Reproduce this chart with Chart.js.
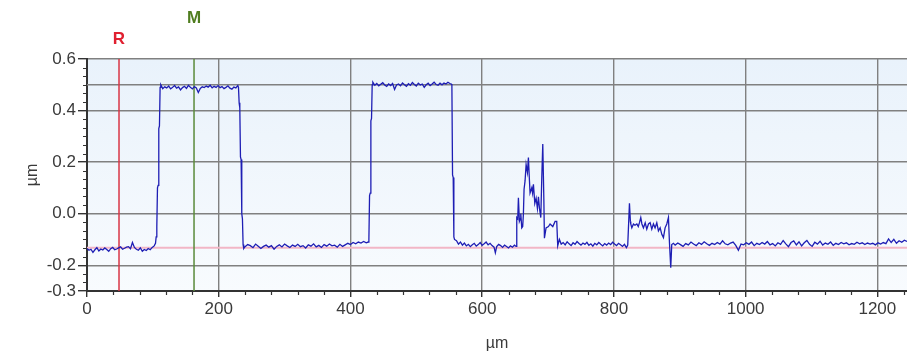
<!DOCTYPE html>
<html>
<head>
<meta charset="utf-8">
<script src="https://cdn.jsdelivr.net/npm/chart.js@4.4.1/dist/chart.umd.min.js"></script>
<style>
html,body{margin:0;padding:0;background:#fff;overflow:hidden;}
#wrap{width:907px;height:359px;}
</style>
</head>
<body>
<div id="wrap"><canvas id="c" width="907" height="359"></canvas></div>
<script>
// ---- Data ----
const xTickValues = [0, 200, 400, 600, 800, 1000, 1200];
const yTickValues = [-0.3, -0.2, 0.0, 0.2, 0.4, 0.6];
const xMin = 0, xMax = 1245;
const yMin = -0.3, yMax = 0.6;
const xMinorStep = 40;
const yMinorStep = 1 / 30;
const axisUnit = 'µm';
const cursorR = 48.6;      // R cursor position (µm)
const cursorM = 162.5;     // M cursor position (µm)
const refLevel = -0.132;   // pink reference level
const measureLevel = 0.5;  // gray measurement level

const profileX = [
  0,3,6,9,12,15,18,21,24,27,30,33,
  36,39,42,45,48,51,54,57,60,63,66,69,
  72,75,78,81,84,87,90,93,96,99,102,
  104,105,106,107,108,109,110,111,112,
  115,118,121,124,127,130,133,136,139,142,145,148,
  151,154,157,160,163,166,169,172,175,178,181,184,
  187,190,193,196,199,202,205,208,211,214,217,220,
  223,226,229,
  230,231,232,233,234,235,236,237,238,
  240,244,248,252,256,260,264,268,272,276,280,284,
  288,292,296,300,304,308,312,316,320,324,328,332,
  336,340,344,348,352,356,360,364,368,372,376,380,
  384,388,392,396,400,404,408,412,416,420,424,427,
  428,429,430,431,432,433,434,
  437,440,443,446,449,452,455,458,461,464,467,470,
  473,476,479,482,485,488,491,494,497,500,503,506,
  509,512,515,518,521,524,527,530,533,536,539,542,
  545,548,551,553,
  554,555,556,557,558,
  561,564,567,570,573,576,579,582,585,588,591,594,
  597,600,603,606,609,612,615,618,620,622,625,628,
  631,634,637,640,643,646,649,651.5,
  652.5,654,655,656.5,658,658.6,660.1,661.5,662.6,663.6,665.1,666.7,
  668.7,670.2,671.8,672.7,675.3,676.5,677.8,679.9,681.9,683.9,685.4,687,
  689,690.5,692,693.6,694.5,697,700.6,703.1,707.2,710.7,713.2,714.7,717.2,
  720,723,726,729,732,735,738,741,744,747,750,753,
  756,759,762,765,768,771,774,777,780,783,786,789,
  792,795,798,801,804,807,810,813,816,819,821,
  822,823.6,825,825.6,827.2,829.7,832,834.8,837,838.8,840.8,842.5,
  844.8,847.5,849.9,852.5,855,857.5,860,862.5,865.1,867.6,870.2,872.7,
  875.2,877.7,880.3,882.8,884.3,886.3,887.8,890.4,
  893,897,901,905,909,913,917,921,925,929,933,937,
  941,945,949,953,957,961,965,969,973,977,981,985,
  989,993,997,1001,1005,1009,1013,1017,1021,1025,1029,1033,
  1037,1041,1045,1049,1053,1057,1061,1065,1069,1073,1077,1081,
  1085,1089,1093,1097,1101,1105,1109,1113,1117,1121,1125,1129,
  1133,1137,1141,1145,1149,1153,1157,1161,1165,1169,1173,1177,
  1181,1185,1189,1193,1197,1201,1205,1209,1213,1217,1221,1225,
  1229,1233,1237,1241,1245
];
const profileY = [
  -0.135,-0.142,-0.138,-0.150,-0.140,-0.132,-0.145,-0.137,-0.141,-0.133,-0.139,-0.146,
  -0.136,-0.131,-0.140,-0.137,-0.133,-0.129,-0.138,-0.134,-0.130,-0.128,-0.136,-0.112,
  -0.131,-0.138,-0.142,-0.133,-0.146,-0.139,-0.143,-0.135,-0.140,-0.131,-0.125,
  -0.115,-0.090,-0.050,0.100,0.110,0.330,0.340,0.490,0.500,
  0.485,0.492,0.488,0.495,0.484,0.490,0.497,0.487,0.492,0.480,0.489,0.494,
  0.486,0.498,0.490,0.484,0.493,0.488,0.470,0.486,0.492,0.489,0.495,0.491,
  0.498,0.488,0.494,0.490,0.497,0.489,0.493,0.485,0.490,0.496,0.487,0.483,
  0.491,0.488,0.497,
  0.490,0.430,0.410,0.220,0.210,0.000,-0.020,-0.120,-0.135,
  -0.128,-0.120,-0.124,-0.132,-0.118,-0.126,-0.135,-0.127,-0.122,-0.130,-0.124,-0.138,
  -0.127,-0.121,-0.129,-0.118,-0.125,-0.131,-0.122,-0.127,-0.119,-0.128,-0.124,-0.133,
  -0.121,-0.126,-0.117,-0.129,-0.123,-0.131,-0.120,-0.126,-0.118,-0.125,-0.122,-0.130,
  -0.119,-0.127,-0.121,-0.115,-0.120,-0.112,-0.117,-0.110,-0.114,-0.108,-0.113,-0.110,
  -0.100,0.070,0.080,0.360,0.370,0.500,0.510,
  0.498,0.505,0.496,0.502,0.508,0.499,0.494,0.503,0.497,0.505,0.482,0.499,
  0.503,0.496,0.507,0.500,0.494,0.504,0.498,0.509,0.501,0.495,0.506,0.499,
  0.503,0.490,0.500,0.506,0.497,0.503,0.510,0.501,0.498,0.506,0.500,0.507,
  0.503,0.510,0.505,0.503,
  0.500,0.150,0.140,-0.090,-0.100,
  -0.105,-0.118,-0.110,-0.122,-0.114,-0.125,-0.119,-0.128,-0.121,-0.115,-0.126,-0.120,
  -0.112,-0.123,-0.117,-0.110,-0.121,-0.115,-0.124,-0.130,-0.152,-0.128,-0.119,-0.124,
  -0.131,-0.122,-0.127,-0.133,-0.125,-0.130,-0.122,-0.127,
  -0.015,-0.020,0.062,-0.030,-0.020,0.000,-0.055,-0.050,0.000,0.095,0.127,0.190,
  0.160,0.218,0.127,0.080,0.100,0.080,0.114,0.040,0.060,0.020,0.065,0.020,
  -0.015,0.140,0.270,0.060,-0.095,-0.055,-0.050,-0.040,-0.050,-0.030,-0.030,-0.125,-0.100,
  -0.118,-0.112,-0.121,-0.109,-0.117,-0.124,-0.113,-0.119,-0.108,-0.116,-0.122,-0.114,
  -0.119,-0.111,-0.123,-0.117,-0.126,-0.115,-0.121,-0.112,-0.119,-0.125,-0.116,-0.122,
  -0.114,-0.120,-0.111,-0.118,-0.124,-0.115,-0.121,-0.127,-0.119,-0.132,-0.122,
  -0.060,0.040,-0.030,-0.040,-0.055,-0.040,-0.045,-0.040,-0.050,-0.035,-0.015,-0.040,
  -0.055,-0.035,-0.060,-0.040,-0.035,-0.060,-0.040,-0.055,-0.035,-0.067,-0.055,-0.080,
  -0.093,-0.055,-0.040,-0.015,-0.110,-0.210,-0.120,-0.115,
  -0.122,-0.114,-0.120,-0.127,-0.116,-0.121,-0.110,-0.118,-0.124,-0.113,-0.119,-0.109,
  -0.117,-0.123,-0.115,-0.120,-0.112,-0.118,-0.105,-0.117,-0.121,-0.114,-0.110,-0.123,
  -0.142,-0.118,-0.121,-0.113,-0.119,-0.110,-0.124,-0.115,-0.120,-0.112,-0.118,-0.108,
  -0.121,-0.116,-0.125,-0.113,-0.119,-0.104,-0.117,-0.128,-0.112,-0.106,-0.121,-0.109,
  -0.125,-0.113,-0.104,-0.119,-0.127,-0.111,-0.118,-0.107,-0.122,-0.114,-0.119,-0.110,
  -0.123,-0.115,-0.120,-0.112,-0.117,-0.113,-0.121,-0.116,-0.119,-0.111,-0.117,-0.113,
  -0.120,-0.114,-0.118,-0.115,-0.121,-0.113,-0.118,-0.112,-0.116,-0.098,-0.112,-0.100,
  -0.115,-0.105,-0.111,-0.103,-0.108
];

// ---- Styles ----
const FONT = '"Liberation Sans", Arial, sans-serif';
const TEXT = '#3a3a3a';
const GRID = '#808080';
const AXIS = '#333333';

const profile = profileX.map((x, i) => ({x: x, y: profileY[i]}));

const plotBg = {
  id: 'plotBg',
  beforeDraw(chart) {
    const {ctx, chartArea: {left, top, right, bottom}} = chart;
    ctx.save();
    const g = ctx.createLinearGradient(0, top, 0, bottom);
    g.addColorStop(0, '#e9f2fb');
    g.addColorStop(1, '#f8fbfe');
    ctx.fillStyle = g;
    ctx.fillRect(left, top, right - left, bottom - top);
    ctx.restore();
  }
};

const minorTicks = {
  id: 'minorTicks',
  afterDraw(chart) {
    const {ctx, chartArea: {left, bottom}} = chart;
    const xs = chart.scales.x, ys = chart.scales.y;
    ctx.save();
    ctx.strokeStyle = AXIS;
    ctx.lineWidth = 1.2;
    ctx.beginPath();
    for (let v = xMin; v <= xMax + 1e-9; v += xMinorStep) {
      if (xTickValues.some(t => Math.abs(t - v) < 1e-6)) continue;
      const p = Math.round(xs.getPixelForValue(v)) + 0.5;
      ctx.moveTo(p, bottom); ctx.lineTo(p, bottom + 4);
    }
    for (let k = 0; k <= Math.round((yMax - yMin) / yMinorStep); k++) {
      const v = yMin + k * yMinorStep;
      if (yTickValues.some(t => Math.abs(t - v) < 1e-6)) continue;
      const p = Math.round(ys.getPixelForValue(v)) + 0.5;
      ctx.moveTo(left - 4, p); ctx.lineTo(left, p);
    }
    ctx.stroke();

    // cursor labels
    ctx.font = 'bold 17px ' + FONT;
    ctx.textAlign = 'center';
    ctx.textBaseline = 'middle';
    ctx.fillStyle = '#e02030';
    ctx.fillText('R', xs.getPixelForValue(cursorR), chart.chartArea.top - 20);
    ctx.fillStyle = '#4f7d1f';
    ctx.fillText('M', xs.getPixelForValue(cursorM), chart.chartArea.top - 41);
    ctx.restore();
  }
};

new Chart(document.getElementById('c'), {
  type: 'scatter',
  data: {
    datasets: [
      {
        label: 'profile',
        data: profile,
        showLine: true,
        borderColor: '#1e1eb4',
        borderWidth: 1.3,
        pointRadius: 0,
        tension: 0,
        order: 0
      },
      {
        label: 'R',
        data: [{x: cursorR, y: yMin}, {x: cursorR, y: yMax}],
        showLine: true, borderColor: '#d83545', borderWidth: 1.5, pointRadius: 0, order: 1
      },
      {
        label: 'M',
        data: [{x: cursorM, y: yMin}, {x: cursorM, y: yMax}],
        showLine: true, borderColor: '#5a8a3a', borderWidth: 1.5, pointRadius: 0, order: 1
      },
      {
        label: 'ref',
        data: [{x: xMin, y: refLevel}, {x: xMax, y: refLevel}],
        showLine: true, borderColor: '#f2b6c6', borderWidth: 2, pointRadius: 0, order: 2
      },
      {
        label: 'meas',
        data: [{x: xMin, y: measureLevel}, {x: xMax, y: measureLevel}],
        showLine: true, borderColor: GRID, borderWidth: 1.4, pointRadius: 0, order: 3
      }
    ]
  },
  options: {
    responsive: false,
    animation: false,
    devicePixelRatio: 1,
    layout: {padding: {top: 59, right: 0, bottom: 0, left: 0}},
    plugins: {legend: {display: false}, tooltip: {enabled: false}},
    scales: {
      x: {
        type: 'linear',
        min: xMin, max: xMax,
        afterFit(s) { s.height = 68; },
        afterBuildTicks(s) { s.ticks = xTickValues.map(v => ({value: v})); },
        ticks: {
          autoSkip: false, maxRotation: 0, padding: 2,
          color: TEXT, font: {family: FONT, size: 17},
          callback: v => String(v)
        },
        grid: {color: GRID, lineWidth: 1.4, drawTicks: true, tickLength: 6, tickColor: AXIS, tickWidth: 1.4},
        border: {display: true, color: AXIS, width: 2},
        title: {display: true, text: axisUnit, color: TEXT, font: {family: FONT, size: 16}, padding: {top: 0, bottom: 6}}
      },
      y: {
        type: 'linear',
        min: yMin, max: yMax,
        afterFit(s) { s.width = 87; },
        afterBuildTicks(s) { s.ticks = yTickValues.map(v => ({value: v})); },
        ticks: {
          autoSkip: false, padding: 2,
          color: TEXT, font: {family: FONT, size: 17},
          callback: v => Number(v).toFixed(1)
        },
        grid: {color: GRID, lineWidth: 1.4, drawTicks: true, tickLength: 9, tickColor: AXIS, tickWidth: 1.4},
        border: {display: true, color: AXIS, width: 2},
        title: {display: true, text: axisUnit, color: TEXT, font: {family: FONT, size: 16}, padding: {top: 23, bottom: 0}}
      }
    }
  },
  plugins: [plotBg, minorTicks]
});
</script>
</body>
</html>
